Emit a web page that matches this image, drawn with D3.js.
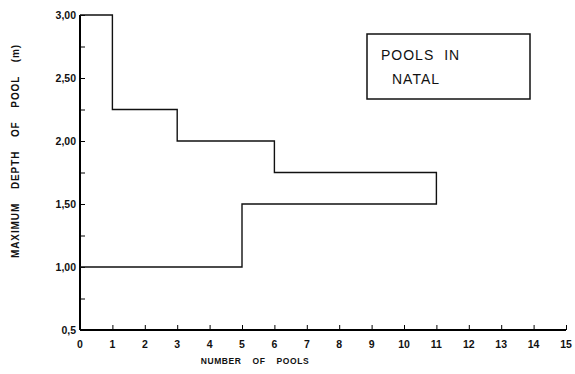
<!DOCTYPE html>
<html>
<head>
<meta charset="utf-8">
<script src="https://cdn.jsdelivr.net/npm/d3@7"></script>
<style>
  body { margin: 0; background: #fff; }
  text { font-family: "Liberation Sans", Arial, sans-serif; fill: #111; }
</style>
</head>
<body>
<div id="chart"></div>
<script>
// depth classes (m) and number of pools in each
const binLow = [1.00, 1.50, 1.75, 2.00, 2.25];
const binHigh = [1.50, 1.75, 2.00, 2.25, 3.00];
const counts = [5, 11, 6, 3, 1];

const xTicks = d3.range(0, 16);
const yTicks = d3.range(0.5, 3.001, 0.25);
const yLabels = [[3.0, "3,00"], [2.5, "2,50"], [2.0, "2,00"], [1.5, "1,50"], [1.0, "1,00"], [0.5, "0,5"]];

const width = 575, height = 374;
const svg = d3.select("#chart").append("svg").attr("width", width).attr("height", height);

const x = d3.scaleLinear().domain([0, 15]).range([80, 566]);
const y = d3.scaleLinear().domain([0.5, 3.0]).range([330, 15]);

// axes: inward ticks, labels added by hand so they can use comma decimals
const xAxis = svg.append("g").attr("transform", `translate(0,${y(0.5)})`)
    .call(d3.axisTop(x).tickValues(xTicks).tickSize(5).tickFormat(""));
xAxis.select(".domain").attr("stroke-width", 2).attr("d", `M${x(0)},0H${x(15)}`);

const yAxis = svg.append("g").attr("transform", `translate(${x(0)},0)`)
    .call(d3.axisRight(y).tickValues(yTicks).tickSize(5).tickFormat(""));
yAxis.select(".domain").attr("stroke-width", 2).attr("d", `M0,${y(3.0)}V${y(0.5)}`);

svg.append("g").selectAll("text").data(xTicks).enter().append("text")
    .attr("x", d => x(d)).attr("y", y(0.5) + 18)
    .attr("text-anchor", "middle").attr("font-size", "10.5px").attr("font-weight", "bold")
    .text(d => d);

svg.append("g").selectAll("text").data(yLabels).enter().append("text")
    .attr("x", x(0) - 4).attr("y", d => y(d[0]) + 4)
    .attr("text-anchor", "end").attr("font-size", "10.5px").attr("font-weight", "bold")
    .text(d => d[1]);

// step outline of the horizontal histogram
const pts = [[0, binHigh[binHigh.length - 1]]];
for (let i = binHigh.length - 1; i >= 0; i--) {
    pts.push([counts[i], binHigh[i]]);
    pts.push([counts[i], binLow[i]]);
}
pts.push([0, binLow[0]]);
const line = d3.line().x(d => x(d[0])).y(d => y(d[1]));
svg.append("path").attr("d", line(pts))
    .attr("fill", "none").attr("stroke", "#111").attr("stroke-width", 1.4);

// titles
svg.append("text").attr("x", 255).attr("y", 364)
    .attr("text-anchor", "middle").attr("font-size", "8.5px").attr("font-weight", "bold")
    .attr("letter-spacing", "0.6px").attr("word-spacing", "8px")
    .text("NUMBER OF POOLS");
svg.append("text").attr("transform", "translate(19,151) rotate(-90)")
    .attr("text-anchor", "middle").attr("font-size", "10px").attr("font-weight", "bold")
    .attr("letter-spacing", "0.9px").attr("word-spacing", "10px")
    .text("MAXIMUM DEPTH OF POOL (m)");

// legend box
svg.append("rect").attr("x", 367).attr("y", 34).attr("width", 163).attr("height", 65)
    .attr("fill", "none").attr("stroke", "#111").attr("stroke-width", 1.5);
svg.append("text").attr("x", 381).attr("y", 60).attr("font-size", "14px")
    .attr("letter-spacing", "1px").attr("word-spacing", "5px").text("POOLS IN");
svg.append("text").attr("x", 392).attr("y", 84).attr("font-size", "14px")
    .attr("letter-spacing", "1px").text("NATAL");
</script>
</body>
</html>
